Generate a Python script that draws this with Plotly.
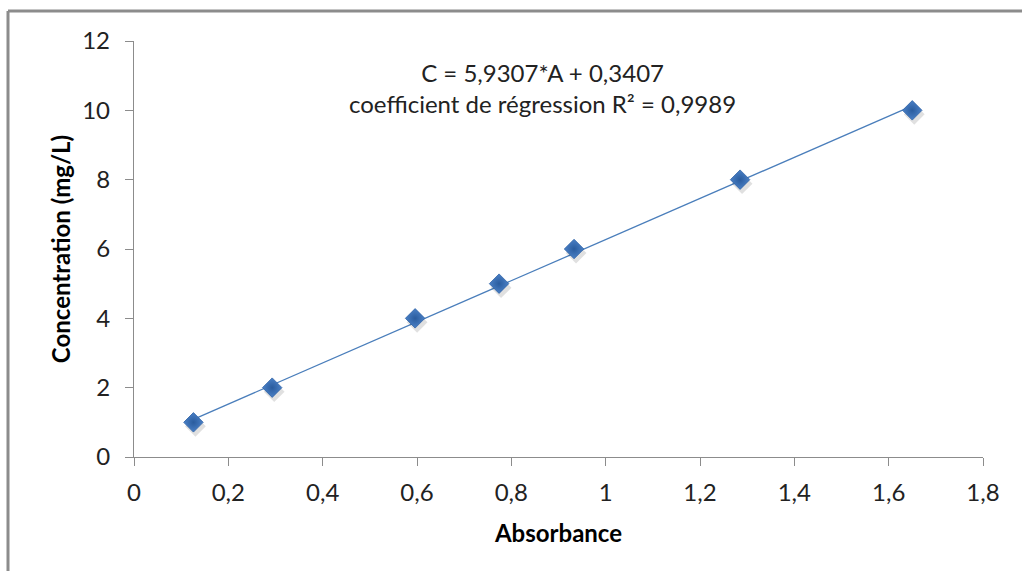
import plotly.graph_objects as go

# Calibration data: absorbance readings and standard concentrations
absorbance = [0.126, 0.293, 0.596, 0.774, 0.933, 1.285, 1.650]
concentration = [1, 2, 4, 5, 6, 8, 10]

# Linear regression reported on the chart
slope = 5.9307
intercept = 0.3407
r2 = 0.9989

x_ticks = [0, 0.2, 0.4, 0.6, 0.8, 1.0, 1.2, 1.4, 1.6, 1.8]
x_tick_text = ["0", "0,2", "0,4", "0,6", "0,8", "1", "1,2", "1,4", "1,6", "1,8"]
y_ticks = [0, 2, 4, 6, 8, 10, 12]

W, H = 1022, 571
L, R, T, B = 134, 39, 41, 114
FONT = "Lato, Open Sans, sans-serif"
FS = 24

fit_x = [min(absorbance), max(absorbance)]
fit_y = [slope * a + intercept for a in fit_x]

fig = go.Figure()

# Regression line
fig.add_trace(go.Scatter(
    x=fit_x, y=fit_y, mode="lines",
    line=dict(color="#4A7EBB", width=1.3),
    hoverinfo="skip", showlegend=False,
))

# Soft drop shadow under the markers
sx = 2 / ((W - L - R) / 1.8)
sy = 4 / ((H - T - B) / 12)
fig.add_trace(go.Scatter(
    x=[a + sx for a in absorbance], y=[c - sy for c in concentration],
    mode="markers",
    marker=dict(symbol="diamond", size=16, color="rgba(0,0,0,0.12)",
                line=dict(width=0)),
    hoverinfo="skip", showlegend=False,
))

# Measured points
fig.add_trace(go.Scatter(
    x=absorbance, y=concentration, mode="markers",
    marker=dict(symbol="diamond", size=15, color="#4A80C6",
                gradient=dict(type="radial", color="#2A5C9E"),
                line=dict(color="#2F62A6", width=0.8)),
    showlegend=False,
))

axis_common = dict(
    showgrid=False, zeroline=False, showline=True,
    linecolor="#8C8C8C", linewidth=1.3,
    ticks="outside", ticklen=8, tickcolor="#8C8C8C", tickwidth=1.3,
    tickfont=dict(family=FONT, size=FS, color="#222222"),
)

fig.update_xaxes(
    range=[0, 1.8], tickvals=x_ticks, ticktext=x_tick_text,
    ticklabelstandoff=6,
    title=dict(text="<b>Absorbance</b>", standoff=20,
               font=dict(family=FONT, size=FS, color="#000000")),
    **axis_common,
)
fig.update_yaxes(
    range=[0, 12], tickvals=y_ticks,
    ticklabelstandoff=10,
    title=dict(text="<b>Concentration (mg/L)</b>", standoff=4,
               font=dict(family=FONT, size=FS, color="#000000")),
    **axis_common,
)

fig.add_annotation(
    x=(542 - L) / (W - L - R), y=(457 - 88) / (H - T - B),
    xref="paper", yref="paper", xanchor="center", yanchor="middle",
    showarrow=False, align="center",
    text=("C = 5,9307*A + 0,3407<br>"
          "coefficient de régression R² = 0,9989"),
    font=dict(family=FONT, size=FS, color="#222222"),
)

# Chart frame (top and left edges)
def px(xp):
    return (xp - L) / (W - L - R)

def py(yp):
    return (H - B - yp) / (H - T - B)

frame = dict(color="#8C8C8C", width=3)
fig.add_shape(type="line", xref="paper", yref="paper",
              x0=px(8), x1=px(W + 5), y0=py(11), y1=py(11), line=frame)
fig.add_shape(type="line", xref="paper", yref="paper",
              x0=px(8), x1=px(8), y0=py(11), y1=py(H + 5), line=frame)

fig.update_layout(
    width=W, height=H,
    margin=dict(l=L, r=R, t=T, b=B),
    paper_bgcolor="white", plot_bgcolor="white",
    font=dict(family=FONT),
)

fig.write_html("out.html")
